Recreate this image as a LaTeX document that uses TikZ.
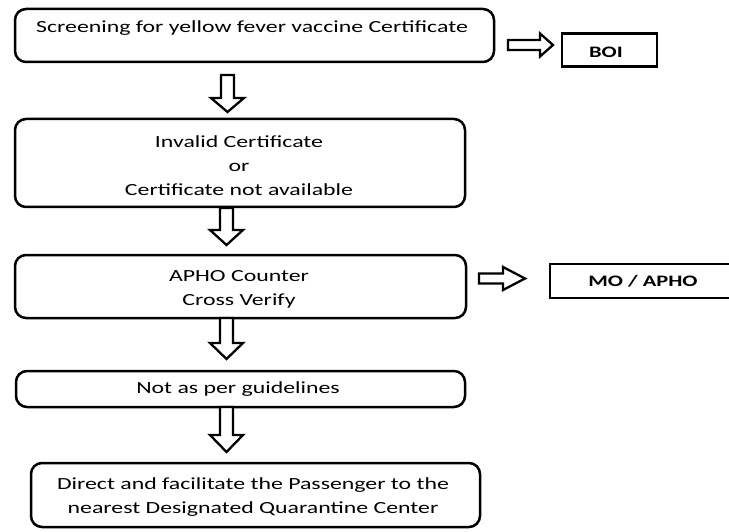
\documentclass[tikz,border=0pt]{standalone}
\usepackage{fontspec}
\setmainfont{Carlito}[FakeStretch=1.4]
\begin{document}
\begin{tikzpicture}[x=1pt,y=-1pt,
  rbox/.style={draw,line width=2.5pt,rounded corners=11pt,inner sep=0pt},
  sbox/.style={draw,line width=2.4pt,inner sep=0pt},
  txt/.style={font=\fontsize{17}{24}\selectfont,align=center,inner sep=0pt},
  btxt/.style={font=\fontsize{16}{18}\selectfont\bfseries,inner sep=0pt},
  blk/.style={draw,line width=2.3pt,fill=white,line join=miter}
]
\useasboundingbox (0,0) rectangle (729,532);
\newcommand\dnarrow[4]{% x, ytop, yhead, ytip
  \draw[blk] ({#1-6.5},#2) -- ({#1+6.5},#2) -- ({#1+6.5},#3) -- ({#1+16.5},#3)
    -- (#1,#4) -- ({#1-16.5},#3) -- ({#1-6.5},#3) -- cycle;}
\newcommand\rtarrow[4]{% y, xtail, xhead, xtip
  \draw[blk] (#2,{#1-5}) -- (#3,{#1-5}) -- (#3,{#1-11.5}) -- (#4,#1)
    -- (#3,{#1+11.5}) -- (#3,{#1+5}) -- (#2,{#1+5}) -- cycle;}
% boxes
\node[rbox,minimum width=479pt,minimum height=53pt] (b1) at (254.5,35.5) {};
\node[txt] (t1) at (252,28) {Screening for yellow fever vaccine Certificate};
\node[sbox,minimum width=95pt,minimum height=33pt] (boi) at (609.5,50) {};
\node[btxt] (tboi) at (606,52.5) {BOI};

\node[rbox,minimum width=450pt,minimum height=88pt] (b2) at (240,163) {};
\node[txt] (t2) at (239,166) {Invalid Certificate\\or\\Certificate not available};

\node[rbox,minimum width=451pt,minimum height=63pt] (b3) at (240.5,286.5) {};
\node[txt] (t3) at (239,289) {APHO Counter\\Cross Verify};
\node[sbox,minimum width=190pt,minimum height=34pt] (mo) at (645,281) {};
\node[btxt] (tmo) at (643,281.5) {MO / APHO};

\node[rbox,minimum width=449pt,minimum height=36pt] (b4) at (240.5,389) {};
\node[txt] (t4) at (238,389) {Not as per guidelines};

\node[rbox,minimum width=449pt,minimum height=64pt] (b5) at (255.5,495) {};
\node[txt] (t5) at (253,497) {Direct and facilitate the Passenger to the\\nearest Designated Quarantine Center};

% block arrows
\rtarrow{45}{508}{540}{553}
\rtarrow{278.5}{479}{503}{525}
\dnarrow{227.5}{75}{98}{112}
\dnarrow{226.5}{208}{230}{245}
\dnarrow{226.5}{318}{343}{359}
\dnarrow{226.5}{407}{435}{452}
\end{tikzpicture}
\end{document}
